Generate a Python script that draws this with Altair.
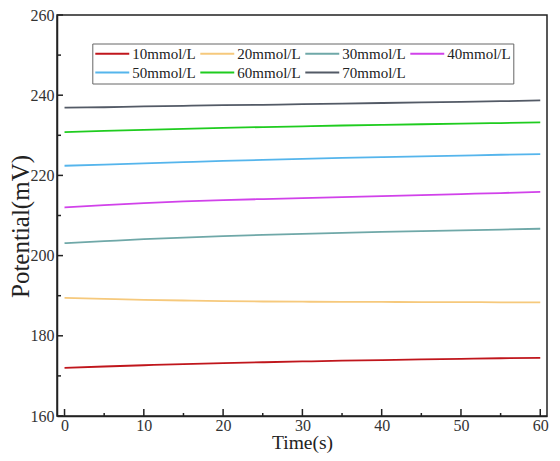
import altair as alt
import pandas as pd

times = [0, 5, 10, 15, 20, 25, 30, 35, 40, 45, 50, 55, 60]
series_names = ["10mmol/L", "20mmol/L", "30mmol/L", "40mmol/L", "50mmol/L", "60mmol/L", "70mmol/L"]
s10 = [172.0, 172.35, 172.65, 172.95, 173.2, 173.4, 173.6, 173.8, 173.95, 174.1, 174.25, 174.4, 174.5]
s20 = [189.45, 189.2, 188.95, 188.8, 188.65, 188.55, 188.5, 188.45, 188.45, 188.4, 188.4, 188.35, 188.35]
s30 = [203.1, 203.6, 204.1, 204.5, 204.85, 205.15, 205.4, 205.65, 205.9, 206.1, 206.3, 206.5, 206.7]
s40 = [212.0, 212.6, 213.1, 213.5, 213.85, 214.1, 214.35, 214.6, 214.85, 215.1, 215.35, 215.6, 215.9]
s50 = [222.4, 222.7, 223.0, 223.3, 223.6, 223.85, 224.1, 224.35, 224.55, 224.75, 224.95, 225.15, 225.3]
s60 = [230.8, 231.1, 231.35, 231.6, 231.85, 232.05, 232.25, 232.45, 232.6, 232.75, 232.9, 233.05, 233.2]
s70 = [236.9, 237.0, 237.2, 237.35, 237.5, 237.6, 237.75, 237.9, 238.05, 238.2, 238.35, 238.5, 238.7]
colors = ["#C0161C", "#F6C97C", "#6FA8A8", "#D142EA", "#55B5EC", "#1FCC1F", "#535A66"]

x_major = [0, 10, 20, 30, 40, 50, 60]
x_minor = [5, 15, 25, 35, 45, 55]
y_major = [160, 180, 200, 220, 240, 260]
y_minor = [170, 190, 210, 230, 250]

rows = []
for name, vals in zip(series_names, [s10, s20, s30, s40, s50, s60, s70]):
    for t, v in zip(times, vals):
        rows.append({"t": t, "v": v, "series": name})
df = pd.DataFrame(rows)

W, H = 490, 401
FONT = "Liberation Serif"

xscale = alt.Scale(domain=[-0.95, 60.85], nice=False, zero=False)
yscale = alt.Scale(domain=[160, 260], nice=False, zero=False)

x_axis = alt.Axis(values=x_major, ticks=False, grid=False, labelPadding=1,
                  labelFontSize=16, titleFontSize=19.5, titleY=32.5, titleBaseline="alphabetic",
                  labelFont=FONT, titleFont=FONT, labelColor="#333",
                  titleColor="#222", domainColor="#222", domainWidth=1.5,
                  titleFontWeight="normal")
y_axis = alt.Axis(values=y_major, ticks=False, grid=False, labelPadding=3,
                  labelFontSize=16, titleFontSize=25, titleX=-29, titleY=211,
                  titleBaseline="alphabetic",
                  labelFont=FONT, titleFont=FONT, labelColor="#333",
                  titleColor="#222", domainColor="#222", domainWidth=1.5,
                  titleFontWeight="normal")

lines = alt.Chart(df).mark_line(strokeWidth=1.8, interpolate="monotone").encode(
    x=alt.X("t:Q", scale=xscale, title="Time(s)", axis=x_axis),
    y=alt.Y("v:Q", scale=yscale, title="Potential(mV)", axis=y_axis),
    color=alt.Color("series:N", sort=series_names,
                    scale=alt.Scale(domain=series_names, range=colors),
                    legend=alt.Legend(title=None, orient="none", legendX=35.3, legendY=28.5,
                                      columns=4, direction="horizontal",
                                      symbolType="M-2,0H7.7", symbolSize=49,
                                      symbolStrokeWidth=2, labelFont=FONT, labelFontSize=15,
                                      labelColor="#222", labelOffset=22.5, columnPadding=0,
                                      rowPadding=3, padding=2.5, strokeColor="#666",
                                      fillColor="white", labelLimit=200)),
)

xt_major = alt.Chart(pd.DataFrame({"t": x_major})).mark_rule(color="#222", strokeWidth=1.5).encode(
    x=alt.X("t:Q", scale=xscale, title="Time(s)", axis=x_axis), y=alt.value(H), y2=alt.value(H - 7))
xt_minor = alt.Chart(pd.DataFrame({"t": x_minor})).mark_rule(color="#222", strokeWidth=1.5).encode(
    x=alt.X("t:Q", scale=xscale, title="Time(s)", axis=x_axis), y=alt.value(H), y2=alt.value(H - 3))
yt_major = alt.Chart(pd.DataFrame({"v": y_major})).mark_rule(color="#222", strokeWidth=1.5).encode(
    y=alt.Y("v:Q", scale=yscale, title="Potential(mV)", axis=y_axis), x=alt.value(0), x2=alt.value(6))
yt_minor = alt.Chart(pd.DataFrame({"v": y_minor})).mark_rule(color="#222", strokeWidth=1.5).encode(
    y=alt.Y("v:Q", scale=yscale, title="Potential(mV)", axis=y_axis), x=alt.value(0), x2=alt.value(4))

chart = alt.layer(lines, xt_major, xt_minor, yt_major, yt_minor).properties(
    width=W, height=H,
    autosize=alt.AutoSizeParams(type="none"),
    padding={"left": 49, "top": 7, "right": 5, "bottom": 37},
    background="white",
).configure_view(stroke="#222", strokeWidth=1.5)

chart.save("out.html", embed_options={"renderer": "svg", "actions": False})
